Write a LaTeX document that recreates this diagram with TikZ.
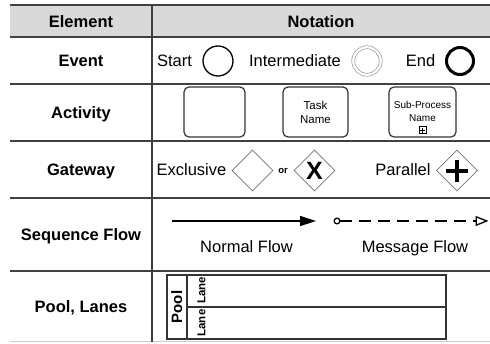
\documentclass[tikz,border=0pt]{standalone}
\usepackage{fontspec}
\setmainfont{Liberation Sans}
\usetikzlibrary{shapes.geometric,arrows.meta,positioning}

\begin{document}
\begin{tikzpicture}[
        x=1pt, y=-1pt,
        every node/.style={inner sep=0pt, font=\fontsize{16.5}{19}\selectfont},
        rule/.style={line width=1.6pt, black!75},
        lbl/.style={anchor=base},
        head/.style={anchor=base, font=\fontsize{16.5}{19}\selectfont\bfseries},
        event/.style={circle, draw, minimum size=30pt, line width=1.3pt},
        activity/.style={draw=black!80, line width=1.2pt, rounded corners=5pt, minimum height=50pt},
        gate/.style={diamond, draw=black!55, line width=0.8pt, minimum size=41pt},
        pool/.style={draw=black!80, line width=1.6pt, minimum width=279pt, minimum height=64pt},
        lane/.style={rotate=90, font=\fontsize{11.5}{13}\selectfont\bfseries}
    ]
    \useasboundingbox (0,0) rectangle (490,343);

    \fill[black!15] (10,5) rectangle (490,37);
    \foreach \y in {5,37,84,141,198,271}
        \draw[rule] (10,\y) -- (490,\y);
    \draw[line width=1.6pt, black!20] (10,341.5) -- (490,341.5);
    \draw[rule] (152,5) -- (152,341.5);

    \node[head] (element) at (81,27) {Element};
    \node[head] (notation) at (321,27) {Notation};
    \node[head] (event) at (81,66.5) {Event};
    \node[head] (activity) at (81,118.5) {Activity};
    \node[head] (gateway) at (81,175.5) {Gateway};
    \node[head] (seqflow) at (81,240.5) {Sequence Flow};
    \node[head] (poollanes) at (81,312) {Pool, Lanes};

    \node[lbl] (startlbl) at (174.5,66.5) {Start};
    \node[event] (startev) at (218,61) {};
    \node[lbl] (interlbl) at (295,66.5) {Intermediate};
    \node[event, draw=black!40, line width=0.7pt, double, double distance=2.2pt, minimum size=27.5pt] (interev) at (367,61) {};
    \node[lbl] (endlbl) at (420.5,66.5) {End};
    \node[event, line width=3pt, minimum size=27pt] (endev) at (460,61) {};

    \node[activity, minimum width=61pt] (act) at (214.5,112) {};
    \node[activity, minimum width=65pt, align=center, font=\fontsize{11.5}{14}\selectfont] (task) at (315.5,112) {Task\\Name};
    \node[activity, minimum width=67pt] (subproc) at (422.5,112) {};
    \node[align=center, font=\fontsize{10}{13}\selectfont] (subname) at (422.5,111.5) {Sub-Process\\Name};
    \node[draw, line width=0.8pt, minimum size=7pt] (submark) at (422.5,130) {};
    \draw[line width=0.9pt] ([xshift=-2.5pt]submark.center) -- ([xshift=2.5pt]submark.center)
        ([yshift=-2.5pt]submark.center) -- ([yshift=2.5pt]submark.center);

    \node[lbl] (excllbl) at (191.5,175.5) {Exclusive};
    \node[gate] (excl) at (252.5,170.5) {};
    \node[font=\fontsize{9.5}{10}\selectfont\bfseries] (or) at (283,171) {or};
    \node[gate, font=\fontsize{25}{25}\selectfont\bfseries] (exclx) at (314.5,170.5) {X};
    \node[lbl] (parlbl) at (403,175.5) {Parallel};
    \node[gate] (par) at (457,170.5) {};
    \draw[line width=4pt] ([xshift=-11pt]par.center) -- ([xshift=11pt]par.center)
        ([yshift=-11pt]par.center) -- ([yshift=11pt]par.center);

    \coordinate (nfa) at (172,221);
    \coordinate (nfb) at (316,221);
    \draw[line width=1.4pt, -{Triangle[length=16pt, width=10pt]}] (nfa) -- (nfb);
    \coordinate (mfa) at (333.5,221);
    \coordinate (mfb) at (488.5,221);
    \draw[line width=1.3pt, dash pattern=on 12pt off 7pt,
        {Circle[open, length=7pt]}-{Triangle[open, length=13pt, width=10pt]}] (mfa) -- (mfb);
    \node[lbl] (normal) at (246.5,252) {Normal Flow};
    \node[lbl] (message) at (415,252) {Message Flow};

    \node[pool] (pool) at (306.5,307) {};
    \draw[line width=1.6pt, black!80] ([xshift=21pt]pool.north west) -- ([xshift=21pt]pool.south west);
    \draw[line width=1.6pt, black!80] ([xshift=21pt]pool.west) -- (pool.east);
    \node[rotate=90, font=\fontsize{15}{17}\selectfont\bfseries] (poollbl) at ([xshift=10.5pt]pool.west) {Pool};
    \node[lane] (lane1) at (201.5,290.5) {Lane};
    \node[lane] (lane2) at (201.5,323) {Lane};
\end{tikzpicture}
\end{document}
